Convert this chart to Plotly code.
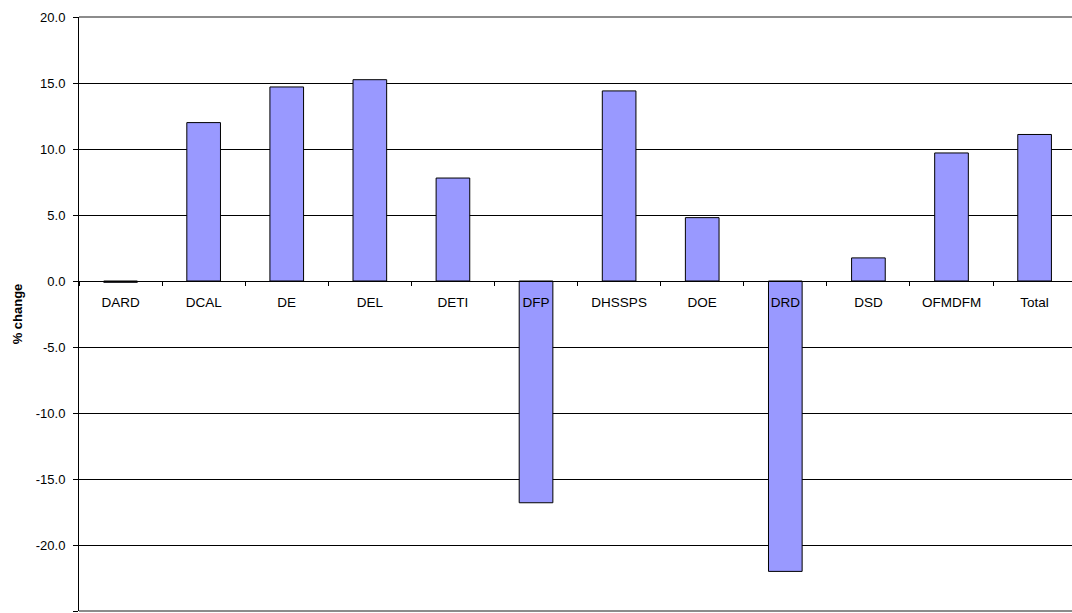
import plotly.graph_objects as go

departments = ["DARD", "DCAL", "DE", "DEL", "DETI", "DFP", "DHSSPS",
               "DOE", "DRD", "DSD", "OFMDFM", "Total"]
pct_change = [-0.1, 12.0, 14.7, 15.25, 7.8, -16.8, 14.4, 4.8, -22.0, 1.75, 9.7, 11.1]
y_ticks = [20, 15, 10, 5, 0, -5, -10, -15, -20, -25]

W, H = 1072, 613
ml, mt, mb = 79, 17, 2
y_min, y_max = -25, 20
zero_frac = (0 - y_min) / (y_max - y_min)

fig = go.Figure(go.Bar(
    x=departments,
    y=pct_change,
    marker=dict(color="#9999FF", line=dict(color="#000000", width=1)),
    hoverinfo="x+y",
))

fig.update_layout(
    width=W, height=H,
    margin=dict(l=ml, r=0, t=mt, b=mb),
    paper_bgcolor="white",
    plot_bgcolor="white",
    bargap=0.595,
    showlegend=False,
    font=dict(family="Liberation Sans, Arial, sans-serif", size=13, color="#000000"),
    xaxis=dict(
        type="category",
        range=[-0.5, 11.45],
        anchor="free",
        position=zero_frac,
        showline=True, linecolor="#000000", linewidth=1,
        ticks="outside", ticklen=4, tickcolor="#000000", tickwidth=1,
        tickson="boundaries",
        ticklabelstandoff=9,
        showgrid=False,
        zeroline=False,
        tickfont=dict(size=13.5),
    ),
    yaxis=dict(
        range=[y_min, y_max],
        tickvals=y_ticks,
        ticktext=[f"{v:.1f}" for v in y_ticks],
        showline=True, linecolor="#000000", linewidth=1,
        ticks="outside", ticklen=5, tickcolor="#000000",
        ticklabelstandoff=5,
        showgrid=True, gridcolor="#000000", gridwidth=1,
        zeroline=True, zerolinecolor="#000000", zerolinewidth=1,
        tickfont=dict(size=13),
        title=dict(text="<b>% change</b>", font=dict(size=13), standoff=10),
    ),
    shapes=[
        dict(type="line", xref="paper", yref="paper", x0=0, x1=1, y0=1, y1=1,
             line=dict(color="#8c8c8c", width=2)),
        dict(type="line", xref="paper", yref="paper", x0=0, x1=1, y0=0, y1=0,
             line=dict(color="#8c8c8c", width=2)),
    ],
)

fig.write_html("out.html")
